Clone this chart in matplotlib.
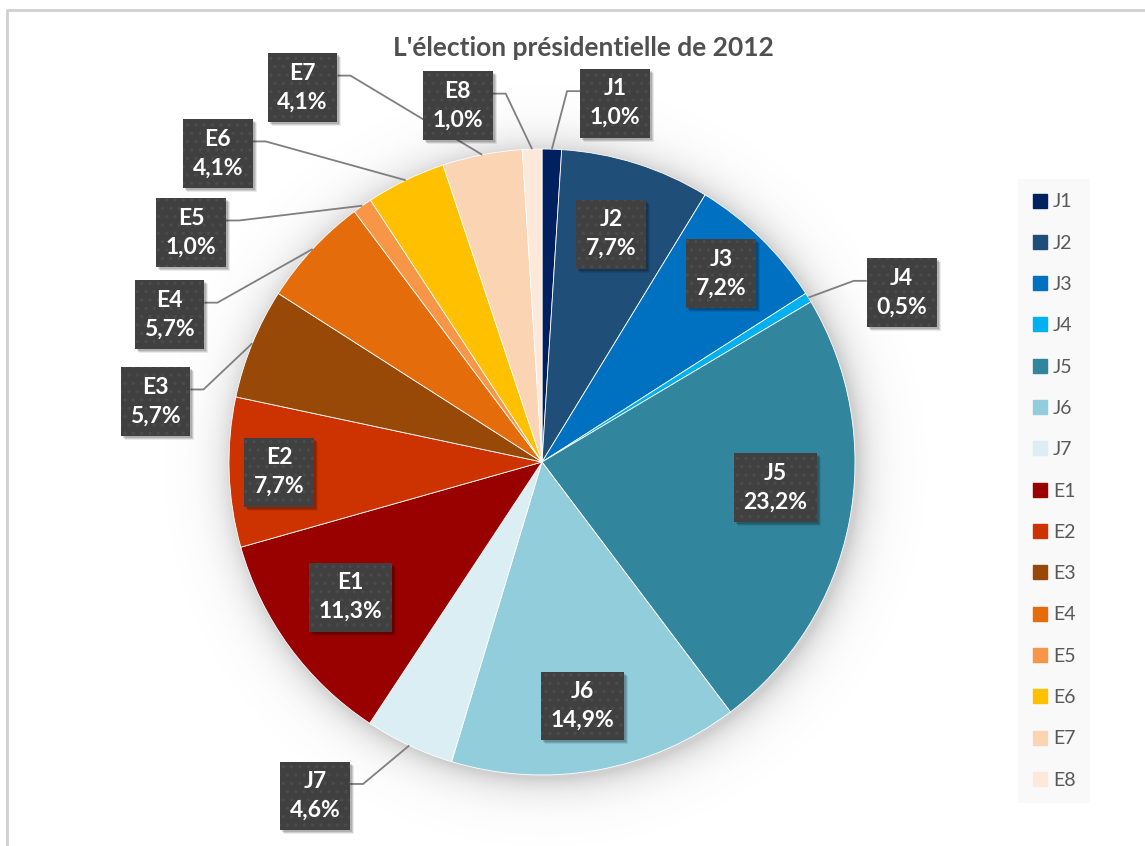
import numpy as np
import matplotlib
matplotlib.use("Agg")
from matplotlib import pyplot as plt
from matplotlib.lines import Line2D
from matplotlib.patches import Rectangle

# Résultats du premier tour, 2012
labels = ["J1", "J2", "J3", "J4", "J5", "J6", "J7",
          "E1", "E2", "E3", "E4", "E5", "E6", "E7", "E8"]
values = [1.0, 7.7, 7.2, 0.5, 23.2, 14.9, 4.6,
          11.3, 7.7, 5.7, 5.7, 1.0, 4.1, 4.1, 1.0]
colors = ["#002060", "#1F4E79", "#0070C0", "#00B0F0", "#31859C", "#92CDDC", "#DAEEF3",
          "#990000", "#CC3300", "#984807", "#E46C0A", "#F79646", "#FFC000", "#FBD4B4", "#FDE9D9"]

# label placement: (angle shift from slice middle in degrees, distance as fraction of radius)
lbl_place = [(-9.7, 1.17), (0.7, 0.76), (0.8, 0.83), (-6.5, 1.27), (4.8, 0.75), (-0.8, 0.79), (-9.1, 1.29),
             (-1.0, 0.75), (0.3, 0.84), (13.4, 1.25), (21.3, 1.28), (21.8, 1.34), (20.6, 1.43), (21.6, 1.42), (11.5, 1.17)]

W, H = 1145, 846
cx, cy, R = 542, H - 462, 313

plt.rcParams['font.family'] = ['Lato', 'DejaVu Sans']
plt.rcParams['hatch.linewidth'] = 1.2
fig = plt.figure(figsize=(W / 100, H / 100), dpi=100)
ax = fig.add_axes([0, 0, 1, 1])

# soft shadow around the pie
yy, xx = np.mgrid[0:H, 0:W]
d = np.hypot(xx - (cx + 3), (H - yy) - (cy - 3))
glow = np.zeros((H, W, 4))
glow[..., :3] = 0.35
glow[..., 3] = np.clip(0.28 * np.exp(-(d - R) / 16.0), 0, 0.28)
ax.imshow(glow, extent=(0, W, 0, H), origin="upper", zorder=0)

wedges, _ = ax.pie(values, colors=colors, startangle=90, counterclock=False,
                   center=(cx, cy), radius=R,
                   wedgeprops=dict(edgecolor="white", linewidth=0.6))
for w in wedges:
    w.set_zorder(2)

ax.set_xlim(0, W)
ax.set_ylim(0, H)
ax.set_aspect("equal")
ax.axis("off")

boxes = []
for i, w in enumerate(wedges):
    mid = (w.theta1 + w.theta2) / 2.0
    shift, rf = lbl_place[i]
    a = np.radians(mid + shift)
    lx, ly = cx + rf * R * np.cos(a), cy + rf * R * np.sin(a)
    pct = f"{values[i]:.1f}".replace(".", ",") + "%"
    t = ax.text(lx, ly, f"{labels[i]}\n{pct}", ha="center", va="center",
                fontsize=16.5, fontweight="bold", linespacing=1.45, color="white", zorder=6,
                bbox=dict(boxstyle="square,pad=0.42", facecolor="#404040",
                          edgecolor="#4B4B4B", linewidth=0, hatch=".."))
    boxes.append(t)
    if rf > 1.0:
        ma = np.radians(mid)
        px, py = cx + R * np.cos(ma), cy + R * np.sin(ma)
        half = 35 if len(pct) < 5 else 41
        side = 1 if lx < px else -1
        bx = lx + side * half
        ey = ly + 12
        ax.plot([bx, bx + side * 13, px], [ey, ey, py], color="#7F7F7F",
                linewidth=1.3, zorder=4, solid_capstyle="butt")

# drop shadows under the label boxes
fig.canvas.draw()
inv = ax.transData.inverted()
for t in boxes:
    ext = t.get_bbox_patch().get_window_extent()
    (x0, y0), (x1, y1) = inv.transform([[ext.x0, ext.y0], [ext.x1, ext.y1]])
    for k, al in ((4, 0.08), (3, 0.12), (2, 0.14)):
        ax.add_patch(Rectangle((x0 + k, y0 - k), x1 - x0, y1 - y0,
                               facecolor="black", alpha=al, edgecolor="none", zorder=5))

ax.text(583, H - 48, "L'élection présidentielle de 2012", ha="center", va="center",
        fontsize=19, fontweight="bold", color="#505050", zorder=6)

# chart frame
ax.plot([7, 7, W], [0, H - 10, H - 10], color="#D0D0D0", linewidth=2, zorder=1)

handles = [Line2D([], [], linestyle="none", marker="s", markersize=10.5,
                  markerfacecolor=c, markeredgecolor=c) for c in colors]
leg = fig.legend(handles, labels, loc="center", bbox_to_anchor=(1054 / W, (H - 491) / H),
                 frameon=True, facecolor="#F9F9F9", edgecolor="none", framealpha=1,
                 fontsize=14, labelspacing=1.25, handlelength=0.8, handletextpad=0.25,
                 borderpad=0.75, fancybox=False)
for t in leg.get_texts():
    t.set_color("#595959")

fig.savefig("out.png", dpi=100)
